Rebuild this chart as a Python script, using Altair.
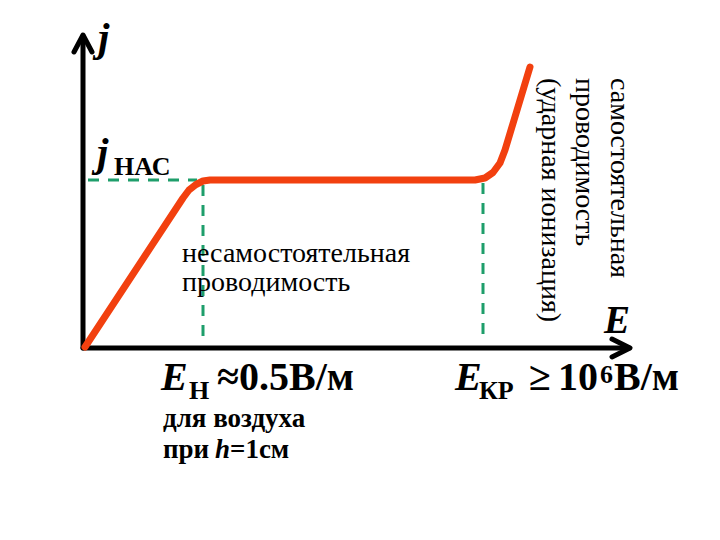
import altair as alt
import pandas as pd

# ---- data (E, j in picture units; origin at the axes' crossing) ----
curve_E = [2, 100, 106, 113, 120, 127, 392, 402, 410, 417, 422, 447]
curve_j = [1, 150, 158, 163.5, 167, 168, 168, 170, 175.5, 185, 198, 281]

# saturation / breakdown guide lines
sat_level = 168
E_sat_x = [5, 114]
E_n = 120
E_n_j = [8, 163]
E_kr = 400
E_kr_j = [11, 165]

# axes extents and arrow heads
y_axis_top = 312
x_axis_end = 546
arrow_y_E = [-9, 0, 9]
arrow_y_j = [296, 313, 296]
arrow_x_E = [529, 547, 529]
arrow_x_j = [9, 0, -9]

FONT = "Liberation Serif"

X_SCALE = alt.Scale(domain=[-75, 629], nice=False, zero=False)
Y_SCALE = alt.Scale(domain=[-184, 340], nice=False, zero=False)


def xenc(f="E"):
    return alt.X(f"{f}:Q", scale=X_SCALE, axis=None)


def yenc(f="j"):
    return alt.Y(f"{f}:Q", scale=Y_SCALE, axis=None)


def line_layer(E, j, color, width, dash=None):
    df = pd.DataFrame({"E": E, "j": j, "i": list(range(len(E)))})
    kw = dict(color=color, strokeWidth=width, strokeCap="round", strokeJoin="round")
    if dash:
        kw["strokeDash"] = dash
        kw["strokeCap"] = "butt"
    return alt.Chart(df).mark_line(**kw).encode(x=xenc(), y=yenc(), order="i:Q")


def text_layer(E, j, t, size, weight="normal", style="normal", angle=0,
               align="left", baseline="alphabetic"):
    df = pd.DataFrame({"E": [E], "j": [j], "t": [t]})
    return alt.Chart(df).mark_text(
        font=FONT, fontSize=size, fontWeight=weight, fontStyle=style,
        angle=angle, align=align, baseline=baseline, color="black"
    ).encode(x=xenc(), y=yenc(), text="t:N")


RED = "#F2400F"
GREEN = "#1E9E6B"

layers = []

# guides (dashed green)
layers.append(line_layer(E_sat_x, [sat_level, sat_level], GREEN, 3, [11, 9]))
layers.append(line_layer([E_n, E_n], E_n_j[::-1], GREEN, 3, [11, 9]))
layers.append(line_layer([E_kr, E_kr], E_kr_j[::-1], GREEN, 3, [11, 9]))

# axes
layers.append(line_layer([0, 0], [0, y_axis_top], "black", 5))
layers.append(line_layer([0, x_axis_end], [0, 0], "black", 5))
layers.append(line_layer(arrow_y_E, arrow_y_j, "black", 5))
layers.append(line_layer(arrow_x_E, arrow_x_j, "black", 5))

# curve
layers.append(line_layer(curve_E, curve_j, RED, 7))

# texts
layers += [
    text_layer(15, 297, "j", 41, "bold", "italic"),
    text_layer(14, 182, "j", 41, "bold", "italic"),
    text_layer(31, 173, "НАС", 26, "bold"),
    text_layer(99, 86, "несамостоятельная", 28),
    text_layer(99, 57, "проводимость", 28),
    text_layer(528, 270, "самостоятельная", 28, angle=90),
    text_layer(493, 270, "проводимость", 28, angle=90),
    text_layer(459, 270, "(ударная ионизация)", 28, angle=90),
    text_layer(521, 15, "E", 39, "bold", "italic"),
    # E_H
    text_layer(78, -42, "E", 40, "bold", "italic"),
    text_layer(106, -51, "Н", 26, "bold"),
    text_layer(134, -42, "≈0.5В/м", 40, "bold"),
    text_layer(80, -79, "для воздуха", 27, "bold"),
    text_layer(80, -110, "при", 27, "bold"),
    text_layer(132, -110, "h", 27, "bold", "italic"),
    text_layer(147, -110, "=1см", 27, "bold"),
    # E_KR
    text_layer(372, -42, "E", 40, "bold", "italic"),
    text_layer(396, -51, "КР", 26, "bold"),
    text_layer(446, -42, "≥", 40, "bold"),
    text_layer(475, -42, "10", 40, "bold"),
    text_layer(517, -35, "6", 26, "bold"),
    text_layer(531, -42, "В/м", 40, "bold"),
]

chart = alt.layer(*layers).properties(
    width=704, height=524,
    autosize=alt.AutoSizeParams(type="none"),
    padding=0,
    background="white",
).configure_view(stroke=None)

chart.save("out.html", embed_options={"renderer": "svg", "actions": False})
